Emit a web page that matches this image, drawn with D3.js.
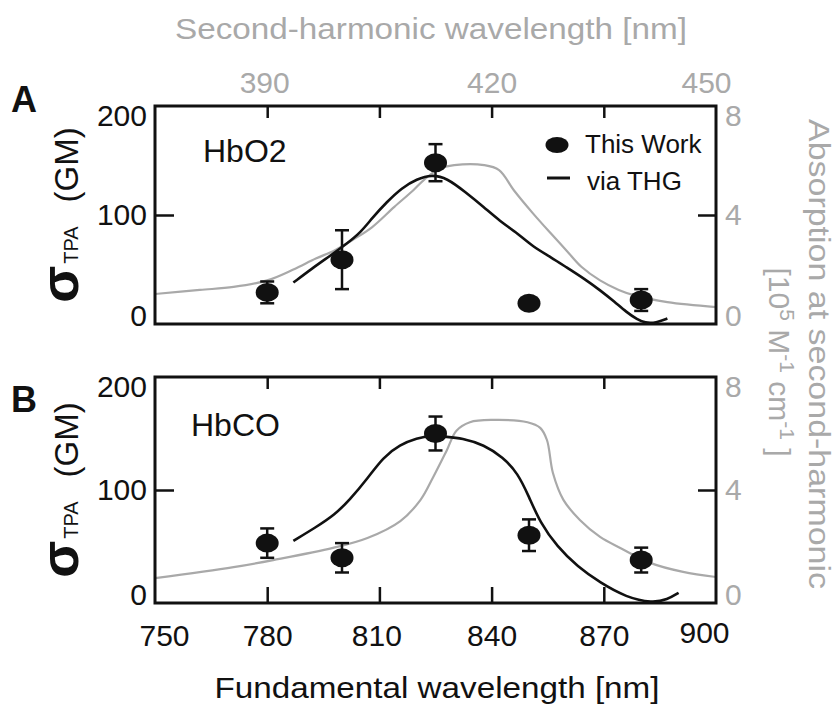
<!DOCTYPE html>
<html>
<head>
<meta charset="utf-8">
<script src="https://cdn.jsdelivr.net/npm/d3@7"></script>
<style>
  body { margin: 0; background: #fff; }
  svg { display: block; font-family: "Liberation Sans", Arial, Helvetica, sans-serif; }
</style>
</head>
<body>
<svg id="chart" width="836" height="706"></svg>
<script>
// ---- data ----
const fundTicks = [750, 780, 810, 840, 870, 900];
const innerTicks = [780, 810, 840, 870];
const shTicks = [390, 420, 450];

// "This Work" two-photon cross sections (GM)
const pointWl = [780, 800, 825, 850, 880];
const hbo2Tpa = [29, 59, 148, 19, 22];
const hbo2Err = [10, 27, 17, 3, 10];
const hbcoTpa = [53, 40, 150, 60, 38];
const hbcoErr = [13, 13, 15, 14, 11];

// "via THG" curves, fundamental wavelength (nm) vs GM
const hbo2ThgWl = [787, 792, 797, 801, 805, 808, 812, 816, 820, 824, 828, 833, 838, 842, 847, 851, 856, 860, 865, 869, 873, 876, 879, 881, 884, 887];
const hbo2Thg = [38, 51, 63, 73, 84, 97, 112, 125, 133, 137, 134, 121, 107, 95, 83, 71, 61, 52, 41, 31, 20, 11, 4, 1, 1, 5];
const hbcoThgWl = [787, 793, 798, 802, 807, 811, 815.5, 820, 824, 828, 832, 838, 843, 847, 850, 853, 857.5, 863, 869, 876, 883, 887, 890];
const hbcoThg = [55, 67, 78, 91, 111, 129, 140, 146, 148, 147, 146, 140, 129, 115, 94, 71, 50, 32, 18, 5, 0, 3, 9];

// one-photon absorption, second-harmonic wavelength (nm) vs 10^5 M^-1 cm^-1
const hbo2AbsSh = [375, 381, 385.5, 390, 393.5, 396.5, 399, 401.5, 404, 407, 409.5, 411, 413, 415, 419, 421, 423, 425.5, 428, 430, 432, 434.5, 437, 439, 443.5, 450];
const hbo2Abs = [1.1, 1.25, 1.36, 1.6, 2.0, 2.4, 2.7, 3.1, 3.55, 4.3, 4.9, 5.3, 5.7, 5.83, 5.83, 5.65, 4.9, 4.07, 3.3, 2.7, 2.1, 1.6, 1.25, 1.06, 0.8, 0.62];
const hbcoAbsSh = [375, 385.5, 390.8, 398.8, 403.4, 407.8, 410.5, 412.2, 414, 415.3, 417.1, 420.2, 424.8, 426.5, 427.4, 428.2, 429.6, 431.8, 434.5, 437.2, 441.2, 445.6, 450];
const hbcoAbs = [0.88, 1.27, 1.52, 1.95, 2.3, 2.9, 3.65, 4.46, 5.4, 6.1, 6.4, 6.48, 6.4, 6.2, 5.77, 4.6, 3.65, 2.94, 2.34, 1.95, 1.42, 1.1, 0.92];

const INK = "#111";
const GREY = "#a9a9a9";
const FS = 30;

const svg = d3.select("#chart");
const x = d3.scaleLinear().domain([750, 900]).range([155, 716]);
const xSh = d3.scaleLinear().domain([375, 450]).range([155, 716]);

function zip(a, b) { return a.map((v, i) => [v, b[i]]); }

function styleLabels(g, fill) {
  g.select(".domain").remove();
  g.selectAll("text").attr("fill", fill).style("font-size", FS + "px").style("font-family", null);
}

function inkTicks(a) {
  a.select(".domain").remove();
  a.selectAll("line").attr("stroke", INK).attr("stroke-width", 2.5);
}

function drawPanel(p) {
  const yL = d3.scaleLinear().domain([0, 200]).range([p.bottom, p.top]);
  const yR = d3.scaleLinear().domain([0, 8]).range([p.bottom, p.top]);
  const g = svg.append("g");
  const clipId = "clip" + p.name;

  g.append("clipPath").attr("id", clipId)
    .append("rect").attr("x", x(750)).attr("y", p.top)
    .attr("width", x(900) - x(750)).attr("height", p.bottom - p.top);

  // absorption (grey, right axis / top axis)
  g.append("path")
    .datum(zip(p.absSh, p.abs))
    .attr("clip-path", `url(#${clipId})`)
    .attr("fill", "none").attr("stroke", GREY).attr("stroke-width", 2.2)
    .attr("d", d3.line().x((d) => xSh(d[0])).y((d) => yR(d[1])).curve(d3.curveCatmullRom.alpha(0.5)));

  // THG curve (black)
  g.append("path")
    .datum(zip(p.thgWl, p.thg))
    .attr("clip-path", `url(#${clipId})`)
    .attr("fill", "none").attr("stroke", INK).attr("stroke-width", 2.6)
    .attr("d", d3.line().x((d) => x(d[0])).y((d) => yL(d[1])).curve(d3.curveBasis));

  // error bars + points
  const pts = pointWl.map((w, i) => ({ w, v: p.tpa[i], e: p.err[i] }));
  const eb = g.append("g").attr("stroke", INK).attr("stroke-width", 2.5);
  eb.selectAll("line.v").data(pts).join("line").attr("class", "v")
    .attr("x1", (d) => x(d.w)).attr("x2", (d) => x(d.w))
    .attr("y1", (d) => yL(d.v - d.e)).attr("y2", (d) => yL(d.v + d.e));
  [-1, 1].forEach((s) => {
    eb.selectAll(null).data(pts).join("line")
      .attr("x1", (d) => x(d.w) - 7).attr("x2", (d) => x(d.w) + 7)
      .attr("y1", (d) => yL(d.v + s * d.e)).attr("y2", (d) => yL(d.v + s * d.e));
  });
  g.selectAll("ellipse.pt").data(pts).join("ellipse").attr("class", "pt")
    .attr("cx", (d) => x(d.w)).attr("cy", (d) => yL(d.v))
    .attr("rx", 11.5).attr("ry", 9.5).attr("fill", INK);

  // inward tick marks
  g.append("g").attr("transform", `translate(0,${p.top})`)
    .call(d3.axisBottom(x).tickValues(innerTicks).tickSize(12).tickFormat(""))
    .call(inkTicks);
  if (p.bottomTicks) {
    g.append("g").attr("transform", `translate(0,${p.bottom})`)
      .call(d3.axisTop(x).tickValues(innerTicks).tickSize(16).tickFormat(""))
      .call(inkTicks);
  }
  g.append("g").attr("transform", `translate(${x(750)},0)`)
    .call(d3.axisRight(yL).tickValues([100]).tickSize(19).tickFormat(""))
    .call(inkTicks);
  g.append("g").attr("transform", `translate(${x(900)},0)`)
    .call(d3.axisLeft(yR).tickValues([4]).tickSize(18).tickFormat(""))
    .call(inkTicks);

  // frame
  g.append("rect").attr("x", x(750)).attr("y", p.top)
    .attr("width", x(900) - x(750)).attr("height", p.bottom - p.top)
    .attr("fill", "none").attr("stroke", INK).attr("stroke-width", 3);

  // y labels
  g.append("g").attr("transform", `translate(${x(750)},0)`)
    .call(d3.axisLeft(yL).tickValues([0, 100, 200]).tickSize(0).tickPadding(8).tickFormat(d3.format("d")))
    .call((a) => styleLabels(a, INK))
    .call((a) => a.selectAll("text").attr("y", (d) => (d === 200 ? 10 : d === 0 ? -8 : 0)));
  g.append("g").attr("transform", `translate(${x(900)},0)`)
    .call(d3.axisRight(yR).tickValues([0, 4, 8]).tickSize(0).tickPadding(9).tickFormat(d3.format("d")))
    .call((a) => styleLabels(a, GREY))
    .call((a) => a.selectAll("text").attr("y", (d) => (d === 8 ? 10 : d === 0 ? -8 : 0)));

  // left axis title
  const midY = (p.top + p.bottom) / 2;
  const t = g.append("text")
    .attr("transform", `translate(78,${midY}) rotate(-90)`)
    .attr("text-anchor", "middle").attr("fill", INK);
  t.append("tspan").text("σ").style("font-size", "54px").style("font-weight", "bold");
  t.append("tspan").text("TPA").attr("dx", 2).style("font-size", "20px");
  t.append("tspan").text("(GM)").attr("dx", 24).style("font-size", "33px");

  // panel letter and species
  svg.append("text").attr("x", 11).attr("y", p.letterY).text(p.name)
    .attr("fill", INK).style("font-size", "36px").style("font-weight", "bold");
  svg.append("text").attr("x", p.speciesX).attr("y", p.speciesY).text(p.species)
    .attr("fill", INK).style("font-size", "32px");
}

drawPanel({
  name: "A", top: 106, bottom: 324, letterY: 112,
  species: "HbO2", speciesX: 203, speciesY: 162,
  tpa: hbo2Tpa, err: hbo2Err, thgWl: hbo2ThgWl, thg: hbo2Thg, absSh: hbo2AbsSh, abs: hbo2Abs,
  bottomTicks: false
});
drawPanel({
  name: "B", top: 377, bottom: 603, letterY: 412,
  species: "HbCO", speciesX: 191, speciesY: 436,
  tpa: hbcoTpa, err: hbcoErr, thgWl: hbcoThgWl, thg: hbcoThg, absSh: hbcoAbsSh, abs: hbcoAbs,
  bottomTicks: true
});

// top (second-harmonic) labels
svg.append("g").attr("transform", "translate(0,93)")
  .call(d3.axisTop(xSh).tickValues(shTicks).tickSize(0).tickPadding(0))
  .call((a) => styleLabels(a, GREY))
  .call((a) => a.selectAll("text").attr("y", 0).attr("dx", (d) => (d === 450 ? -10 : d === 390 ? -3 : 0)));

svg.append("text").attr("x", 431).attr("y", 39).attr("text-anchor", "middle")
  .attr("fill", GREY).style("font-size", "30px")
  .attr("textLength", 512).attr("lengthAdjust", "spacingAndGlyphs")
  .text("Second-harmonic wavelength [nm]");

// bottom (fundamental) labels
svg.append("g").attr("transform", "translate(0,603)")
  .call(d3.axisBottom(x).tickValues(fundTicks).tickSize(0).tickPadding(0).tickFormat(d3.format("d")))
  .call((a) => styleLabels(a, INK))
  .call((a) => a.selectAll("text").attr("dy", 0)
    .attr("y", (d) => (d === 900 ? 40 : 43))
    .attr("dx", (d) => (d === 750 ? 9 : d === 900 ? -12 : d === 810 ? -3 : 0)));

svg.append("text").attr("x", 437).attr("y", 698).attr("text-anchor", "middle")
  .attr("fill", INK).style("font-size", "30px")
  .attr("textLength", 445).attr("lengthAdjust", "spacingAndGlyphs")
  .text("Fundamental wavelength [nm]");

// right axis title (two lines, rotated)
svg.append("text").attr("transform", "translate(809,354) rotate(90)")
  .attr("text-anchor", "middle").attr("fill", GREY).style("font-size", "30px")
  .attr("textLength", 470).attr("lengthAdjust", "spacingAndGlyphs")
  .text("Absorption at second-harmonic");
const r2 = svg.append("text").attr("transform", "translate(769,362) rotate(90)")
  .attr("text-anchor", "middle").attr("fill", GREY).style("font-size", "30px");
r2.append("tspan").text("[10");
r2.append("tspan").text("5").attr("dy", -11).style("font-size", "21px");
r2.append("tspan").text(" M").attr("dy", 11);
r2.append("tspan").text("-1").attr("dy", -11).style("font-size", "21px");
r2.append("tspan").text(" cm").attr("dy", 11);
r2.append("tspan").text("-1").attr("dy", -11).style("font-size", "21px");
r2.append("tspan").text(" ]").attr("dy", 11);

// legend (panel A)
const lg = svg.append("g");
lg.append("ellipse").attr("cx", 557).attr("cy", 145).attr("rx", 11.5).attr("ry", 8).attr("fill", INK);
lg.append("text").attr("x", 585).attr("y", 153).text("This Work").attr("fill", INK).style("font-size", "26px");
lg.append("line").attr("x1", 547).attr("x2", 570).attr("y1", 178).attr("y2", 178).attr("stroke", INK).attr("stroke-width", 3);
lg.append("text").attr("x", 587).attr("y", 190).text("via THG").attr("fill", INK).style("font-size", "26px");
</script>
</body>
</html>
